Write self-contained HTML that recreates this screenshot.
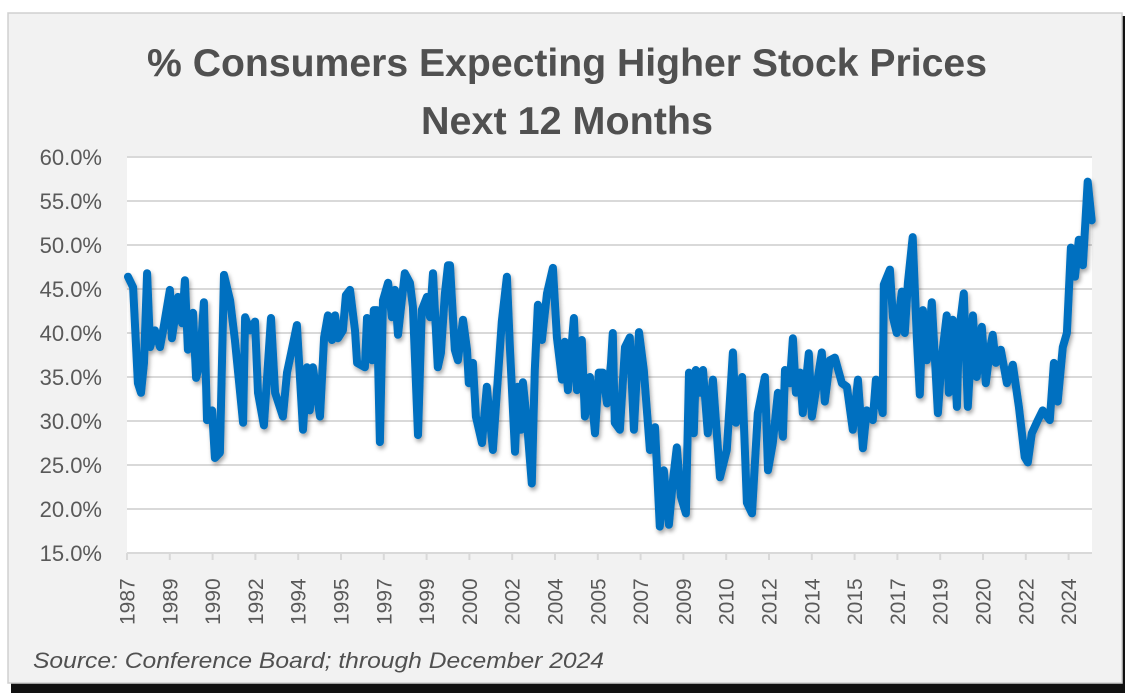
<!DOCTYPE html>
<html><head><meta charset="utf-8"><style>
html,body{margin:0;padding:0;background:#fff;width:1132px;height:698px;overflow:hidden}
svg{display:block}
</style></head><body>
<svg id="chart" width="1132" height="698" xmlns="http://www.w3.org/2000/svg">
<defs>
<filter id="sh" x="-5%" y="-5%" width="110%" height="120%"><feDropShadow dx="1.5" dy="3" stdDeviation="2" flood-color="#000" flood-opacity="0.35"/></filter>
</defs>
<rect x="11" y="16" width="1114" height="677" fill="#111"/>
<rect x="8" y="13" width="1114" height="670" fill="#f2f2f2" stroke="#d0d0d0" stroke-width="1.5"/>
<rect x="127" y="157" width="965" height="396" fill="#fff"/>
<text x="567" y="76" text-anchor="middle" font-family="Liberation Sans, sans-serif" font-weight="bold" font-size="39" fill="#505050" textLength="840" lengthAdjust="spacingAndGlyphs">% Consumers Expecting Higher Stock Prices</text>
<text x="567" y="134" text-anchor="middle" font-family="Liberation Sans, sans-serif" font-weight="bold" font-size="39" fill="#505050" textLength="292" lengthAdjust="spacingAndGlyphs">Next 12 Months</text>
<text x="33" y="668" font-family="Liberation Sans, sans-serif" font-style="italic" font-size="22" fill="#505050" textLength="571" lengthAdjust="spacingAndGlyphs">Source: Conference Board; through December 2024</text>
<g id="grid"></g><g id="yax"></g><g id="xax"></g><g id="series"></g>
</svg>
<script>
const yTicks=[15,20,25,30,35,40,45,50,55,60];
const xLabels=["1987","1989","1990","1992","1994","1995","1997","1999","2000","2002","2004","2005","2007","2009","2010","2012","2014","2015","2017","2019","2020","2022","2024"];
const dates=[1987.04,1987.24,1987.43,1987.55,1987.67,1987.79,1987.91,1988.10,1988.30,1988.42,1988.69,1988.77,1989.01,1989.17,1989.28,1989.40,1989.60,1989.72,1989.87,1990.03,1990.15,1990.35,1990.46,1990.66,1990.82,1991.06,1991.25,1991.57,1991.65,1991.84,1992.04,1992.16,1992.39,1992.67,1992.83,1993.14,1993.30,1993.46,1993.69,1993.93,1994.09,1994.20,1994.32,1994.60,1994.76,1994.91,1995.07,1995.19,1995.31,1995.50,1995.62,1995.78,1995.98,1996.06,1996.37,1996.45,1996.65,1996.72,1996.84,1996.96,1997.08,1997.28,1997.43,1997.55,1997.67,1997.94,1998.14,1998.26,1998.46,1998.61,1998.81,1998.93,1999.05,1999.24,1999.36,1999.52,1999.64,1999.72,1999.91,2000.03,2000.23,2000.39,2000.46,2000.62,2000.74,2000.98,2001.17,2001.41,2001.57,2001.76,2001.96,2002.08,2002.28,2002.39,2002.51,2002.59,2002.75,2002.94,2003.06,2003.18,2003.34,2003.54,2003.77,2003.93,2004.13,2004.24,2004.36,2004.60,2004.72,2004.91,2005.03,2005.23,2005.43,2005.58,2005.74,2005.90,2006.06,2006.13,2006.21,2006.41,2006.61,2006.80,2006.96,2007.16,2007.35,2007.59,2007.79,2007.98,2008.14,2008.34,2008.50,2008.65,2008.81,2009.01,2009.13,2009.32,2009.40,2009.56,2009.68,2009.87,2010.07,2010.35,2010.62,2010.86,2010.98,2011.22,2011.41,2011.61,2011.84,2012.12,2012.24,2012.43,2012.63,2012.83,2012.91,2013.10,2013.22,2013.34,2013.50,2013.61,2013.85,2013.97,2014.17,2014.36,2014.48,2014.68,2014.87,2015.15,2015.35,2015.58,2015.78,2015.98,2016.13,2016.37,2016.49,2016.76,2016.80,2017.04,2017.16,2017.31,2017.51,2017.63,2017.75,2017.94,2018.10,2018.22,2018.34,2018.50,2018.69,2018.93,2019.09,2019.28,2019.36,2019.52,2019.68,2019.76,2019.95,2020.11,2020.31,2020.46,2020.66,2020.82,2020.98,2021.09,2021.21,2021.41,2021.65,2021.88,2022.12,2022.35,2022.47,2022.63,2022.87,2023.06,2023.34,2023.50,2023.65,2023.85,2024.01,2024.17,2024.33,2024.48,2024.64,2024.83,2024.99];
const values=[46.4,45.2,34.3,33.2,36.6,46.8,38.4,40.3,38.4,40.3,44.9,39.4,44.1,41.1,46.0,38.1,42.3,34.9,36.6,43.5,30.1,31.2,25.8,26.4,46.6,43.7,39.2,29.8,41.8,40.3,41.3,33.2,29.5,41.7,33.2,30.5,35.5,37.7,40.9,29.0,36.1,31.2,36.1,30.5,39.5,42.0,39.2,42.0,39.4,40.3,44.3,44.9,40.3,36.6,36.1,41.7,36.9,42.6,42.6,27.6,43.7,45.7,41.8,44.9,39.8,46.8,45.7,43.0,28.4,42.6,44.1,41.8,46.8,36.1,37.7,44.5,47.7,47.7,38.1,36.9,41.5,38.1,34.3,36.6,30.5,27.5,33.9,26.7,33.5,41.3,46.4,38.1,26.5,33.9,29.0,34.4,29.8,22.9,35.8,43.2,39.2,44.5,47.4,39.5,34.7,39.0,33.5,41.7,33.5,39.2,30.5,35.0,28.6,35.5,35.5,32.0,36.6,40.0,29.8,29.0,38.4,39.5,29.0,40.1,35.8,26.7,29.3,18.0,24.4,18.2,23.3,27.0,21.4,19.5,35.5,28.6,35.8,33.2,35.8,28.6,34.7,23.6,26.7,37.8,29.8,35.0,20.7,19.5,30.9,35.0,24.4,27.5,33.2,28.2,35.8,34.3,39.4,33.2,35.5,30.9,37.7,30.5,34.3,37.8,32.2,36.9,37.2,34.3,33.9,29.0,34.7,26.9,31.2,30.1,34.7,30.9,45.5,47.2,41.8,40.0,44.7,40.0,45.7,50.9,39.5,33.0,42.6,36.9,43.5,30.9,37.3,42.0,33.2,41.5,31.6,40.0,44.5,31.6,42.0,35.0,40.7,34.3,38.1,39.8,36.6,38.1,34.3,36.4,31.6,25.9,25.3,28.6,30.1,31.2,30.1,36.6,32.2,38.4,40.0,49.7,46.4,50.6,47.7,57.2,52.8];

const X0=127,X1=1092,Y0=553,Y1=157,T0=1987,T1=2025,V0=15,V1=60;
const xs=t=>X0+(t-T0)/(T1-T0)*(X1-X0);
const ys=v=>Y0-(v-V0)/(V1-V0)*(Y0-Y1);
const NS="http://www.w3.org/2000/svg";
function mk(tag,attrs,parent){const e=document.createElementNS(NS,tag);for(const k in attrs)e.setAttribute(k,attrs[k]);parent.appendChild(e);return e;}
const grid=document.getElementById('grid'),yax=document.getElementById('yax'),xax=document.getElementById('xax'),series=document.getElementById('series');
yTicks.forEach(v=>{
  const l=mk('line',{x1:X0,x2:X1,y1:ys(v),y2:ys(v),stroke:'#d9d9d9','stroke-width':2},grid);
  
  
  const t=mk('text',{x:102,y:ys(v)+8,'text-anchor':'end','font-family':'Liberation Sans, sans-serif','font-size':22,fill:'#595959'},yax);
  t.textContent=v.toFixed(1)+'%';
  
  
});
const step=(T1-T0)*42.8/(X1-X0);
xLabels.forEach((lab,i)=>{
  const x=xs(T0+i*step);
  const tk=mk('line',{x1:x,x2:x,y1:Y0,y2:Y0+7,stroke:'#d9d9d9','stroke-width':2},xax);
  
  
  const t=mk('text',{x:0,y:0,transform:`translate(${x+7.5},625) rotate(-90)`,'font-family':'Liberation Sans, sans-serif','font-size':21,fill:'#595959'},xax);
  t.textContent=lab;
  
  
});
const d=dates.map((t,i)=>(i?'L':'M')+xs(t).toFixed(1)+' '+ys(values[i]).toFixed(1)).join(' ');
const p=mk('path',{d:d,fill:'none',stroke:'#0070c0','stroke-width':8,'stroke-linejoin':'round','stroke-linecap':'round',filter:'url(#sh)'},series);


</script>
</body></html>
